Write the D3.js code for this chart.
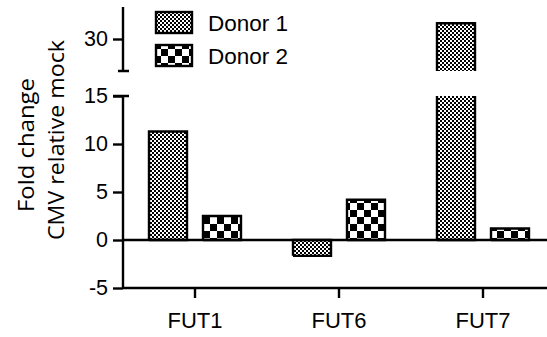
<!DOCTYPE html>
<html><head><meta charset="utf-8">
<script src="https://cdn.jsdelivr.net/npm/d3@7"></script>
<style>html,body{margin:0;padding:0;background:#fff;}svg{display:block;}</style>
</head><body>
<svg id="chart" width="547" height="337"></svg>
<script>
const categories = ["FUT1", "FUT6", "FUT7"];
const seriesNames = ["Donor 1", "Donor 2"];
const donor1 = [11.3, -1.65, 32.45];
const donor2 = [2.5, 4.2, 1.2];
const lowerTicks = [15, 10, 5, 0, -5];
const upperTicks = [30];
const lowerDomain = [-5, 15];
const upperDomain = [25, 35];
const titleLines = ["Fold change", "CMV relative mock"];

const svg = d3.select("#chart");
const defs = svg.append("defs");

// fine checker (Donor 1)
const p1 = defs.append("pattern").attr("id", "pat1").attr("patternUnits", "userSpaceOnUse")
  .attr("width", 4).attr("height", 4);
p1.append("rect").attr("width", 4).attr("height", 4).attr("fill", "#fff");
p1.append("rect").attr("x", 0).attr("y", 0).attr("width", 2).attr("height", 2).attr("fill", "#000");
p1.append("rect").attr("x", 2).attr("y", 2).attr("width", 2).attr("height", 2).attr("fill", "#000");
// coarse checker (Donor 2)
const p2 = defs.append("pattern").attr("id", "pat2").attr("patternUnits", "userSpaceOnUse")
  .attr("width", 14).attr("height", 14);
p2.append("rect").attr("width", 14).attr("height", 14).attr("fill", "#fff");
p2.append("rect").attr("x", 0).attr("y", 0).attr("width", 7).attr("height", 7).attr("fill", "#000");
p2.append("rect").attr("x", 7).attr("y", 7).attr("width", 7).attr("height", 7).attr("fill", "#000");
const fills = ["url(#pat1)", "url(#pat2)"];

const axisX = 123;
const yLow = d3.scaleLinear().domain(lowerDomain).range([288, 96]);
const yUp = d3.scaleLinear().domain(upperDomain).range([71, 7]);
const x = d3.scaleBand().domain(categories).range([axisX, axisX + 432]);
const barW = 38, gap = 16;
const sw = 2.4;

const tickFont = "'Liberation Sans', Arial, sans-serif";
const fmt = d => String(d);

// bars
const data = [];
categories.forEach((c, i) => {
  data.push({c, s: 0, v: donor1[i]});
  data.push({c, s: 1, v: donor2[i]});
});
const g = svg.append("g");
data.forEach(d => {
  const cx = x(d.c) + x.bandwidth() / 2;
  const x0 = d.s === 0 ? cx - gap / 2 - barW : cx + gap / 2;
  const x1 = x0 + barW;
  const segs = [];
  if (d.v > lowerDomain[1]) {
    segs.push({top: yLow(lowerDomain[1]), bot: yLow(0), capTop: false, capBot: true});
    segs.push({top: yUp(d.v), bot: yUp(upperDomain[0]), capTop: true, capBot: false});
  } else {
    const a = yLow(d.v), b = yLow(0);
    segs.push({top: Math.min(a, b), bot: Math.max(a, b), capTop: true, capBot: true});
  }
  segs.forEach(s => {
    g.append("rect").attr("x", x0).attr("y", s.top).attr("width", barW).attr("height", s.bot - s.top)
      .attr("fill", fills[d.s]);
    let path = `M${x0},${s.bot}L${x0},${s.top}`;
    path += s.capTop ? `L${x1},${s.top}` : `M${x1},${s.top}`;
    path += `L${x1},${s.bot}`;
    if (s.capBot) path += `L${x0},${s.bot}`;
    g.append("path").attr("d", path).attr("fill", "none").attr("stroke", "#000").attr("stroke-width", sw);
  });
});

// zero line
svg.append("line").attr("x1", axisX).attr("x2", 547).attr("y1", yLow(0)).attr("y2", yLow(0))
  .attr("stroke", "#000").attr("stroke-width", sw);

// lower y axis
const lowAxis = svg.append("g").attr("transform", `translate(${axisX},0)`)
  .call(d3.axisLeft(yLow).tickValues(lowerTicks).tickSize(10).tickPadding(5).tickFormat(fmt));
lowAxis.select(".domain").attr("d", `M0,${yLow(lowerDomain[1])}V${yLow(lowerDomain[0])}M-10,${yLow(lowerDomain[1])}H6`);
// upper y axis
const upAxis = svg.append("g").attr("transform", `translate(${axisX},0)`)
  .call(d3.axisLeft(yUp).tickValues(upperTicks).tickSize(10).tickPadding(5).tickFormat(fmt));
upAxis.select(".domain").attr("d", `M0,${yUp(upperDomain[1])}V${yUp(upperDomain[0])}M-5,${yUp(upperDomain[0])}H6`);
[lowAxis, upAxis].forEach(a => {
  a.selectAll("path,line").attr("stroke", "#000").attr("stroke-width", sw);
  a.selectAll("text").attr("font-family", tickFont).attr("font-size", 21.5).attr("fill", "#000");
});

// x axis (bottom)
const xAxis = svg.append("g").attr("transform", `translate(0,${yLow(lowerDomain[0])})`)
  .call(d3.axisBottom(x).tickSize(10).tickPadding(14).tickSizeOuter(0));
xAxis.select(".domain").attr("d", `M${axisX},0H${axisX + 432}`);
xAxis.selectAll("path,line").attr("stroke", "#000").attr("stroke-width", sw);
xAxis.selectAll("text").attr("font-family", tickFont).attr("font-size", 22).attr("fill", "#000");

// y title
const tFont = "'Open Sans', 'Noto Sans', sans-serif";
const titlePos = [{x: 34, y: 145, len: 134}, {x: 64, y: 140, len: 200}];
titleLines.forEach((t, i) => {
  svg.append("text").attr("transform", `translate(${titlePos[i].x},${titlePos[i].y}) rotate(-90)`)
    .attr("text-anchor", "middle").attr("font-family", tFont).attr("font-size", 22.5).attr("fill", "#000")
    .attr("textLength", titlePos[i].len).attr("lengthAdjust", "spacingAndGlyphs").text(t);
});

// legend
const lg = svg.append("g");
seriesNames.forEach((n, i) => {
  const yy = 12 + i * 33;
  lg.append("rect").attr("x", 156).attr("y", yy).attr("width", 36).attr("height", 21)
    .attr("fill", fills[i]).attr("stroke", "#000").attr("stroke-width", sw);
  lg.append("text").attr("x", 208).attr("y", yy + 19).attr("font-family", tickFont)
    .attr("font-size", 22.5).attr("fill", "#000").text(n);
});
</script>
</body></html>
